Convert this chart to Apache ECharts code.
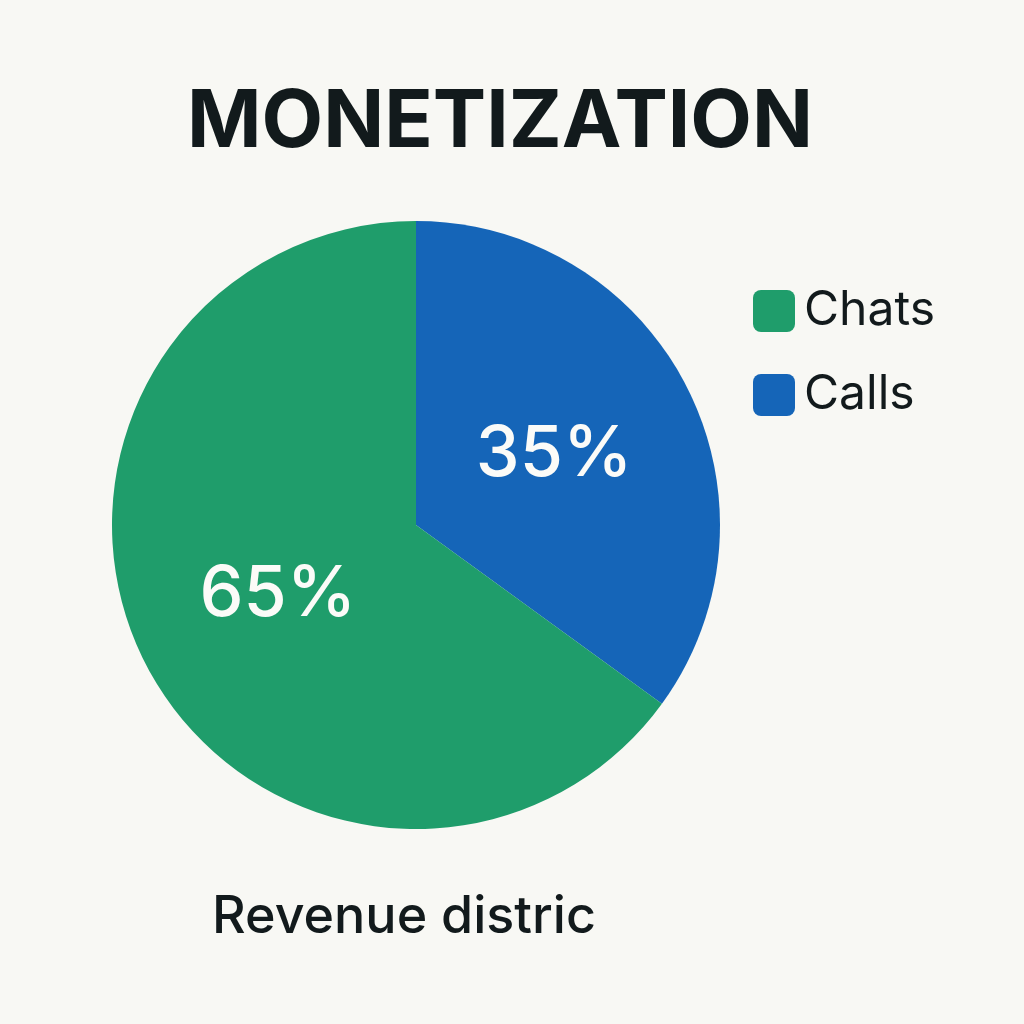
<!DOCTYPE html>
<html>
<head>
<meta charset="utf-8">
<style>html,body{margin:0;padding:0;background:#f8f8f4}#main{width:1024px;height:1024px}</style>
<script src="https://cdn.jsdelivr.net/npm/echarts@6/dist/echarts.min.js"></script>
</head>
<body>
<div id="main"></div>
<script>
var categories = ['Calls', 'Chats']
var values = [35, 65]
var colors = ['#1565b8', '#1f9d6b']
var legendOrder = ['Chats', 'Calls']
var fontName = 'Inter'

var myChart = echarts.init(document.getElementById('main'))
myChart.setOption({
    backgroundColor: '#f8f8f4',
    animation: false,
    title: [{
        text: 'MONETIZATION',
        left: 495,
        top: 78,
        textAlign: 'center',
        textStyle: {color: '#121a1c', fontSize: 80, fontWeight: 700, fontFamily: fontName}
    }, {
        text: 'Revenue distric',
        left: 399,
        top: 886,
        textAlign: 'center',
        textStyle: {color: '#121a1c', fontSize: 52, fontWeight: 500, fontFamily: fontName}
    }],
    legend: {
        orient: 'vertical',
        left: 748,
        top: 282,
        itemWidth: 42,
        itemHeight: 42,
        itemGap: 36,
        data: legendOrder.map(function (n, i) {
            return {name: n, icon: 'path://M8,0H34A8,8 0 0 1 42,8V34A8,8 0 0 1 34,42H8A8,8 0 0 1 0,34V8A8,8 0 0 1 8,0Z'}
        }),
        textStyle: {color: '#121a1c', fontSize: 48, fontFamily: fontName, padding: [0, 0, 0, 4]}
    },
    series: [{
        type: 'pie',
        center: [416, 525],
        radius: [0, 304],
        startAngle: 90,
        clockwise: true,
        data: categories.map(function (n, i) {
            return {name: n, value: values[i], itemStyle: {color: colors[i]}}
        }),
        label: {
            position: 'inside',
            formatter: '{c}%',
            color: '#fbfbf8',
            fontSize: 70,
            fontWeight: 500,
            fontFamily: fontName
        },
        labelLine: {show: false}
    }]
})
</script>
</body>
</html>
